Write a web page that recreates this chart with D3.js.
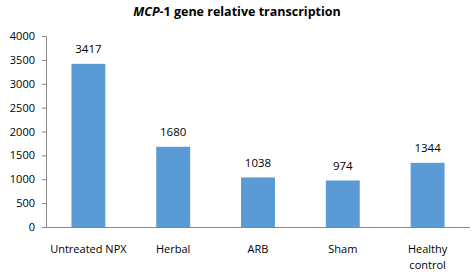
<!DOCTYPE html>
<html><head><meta charset="utf-8">
<script src="https://cdn.jsdelivr.net/npm/d3@7"></script>
<style>body{margin:0;background:#fff}svg{display:block;font-family:"Open Sans",Calibri,sans-serif}</style>
</head><body>
<script>
const categories = ["Untreated NPX","Herbal","ARB","Sham","Healthy control"];
const values = [3417,1680,1038,974,1344];
const yTicks = [0,500,1000,1500,2000,2500,3000,3500,4000];

const W=472,H=274;
const svg=d3.select("body").append("svg").attr("width",W).attr("height",H);
svg.append("rect").attr("width",W).attr("height",H).attr("fill","#fff");
const x=d3.scaleBand().domain(categories).range([46,470]).paddingInner(0.6).paddingOuter(0.3);
const y=d3.scaleLinear().domain([0,4000]).range([227,36]);

const t=svg.append("text").attr("x",237).attr("y",16).attr("text-anchor","middle")
  .attr("font-size",12.5).attr("font-weight","bold").attr("fill","#000");
t.append("tspan").attr("font-style","italic").text("MCP");
t.append("tspan").text("-1 gene relative transcription");

const ya=svg.append("g").attr("transform","translate(46,0)")
  .call(d3.axisLeft(y).tickValues(yTicks).tickSize(4).tickPadding(7).tickFormat(d3.format("d")));
ya.selectAll("path,line").attr("stroke","#868686");
ya.selectAll("text").attr("font-size",11).attr("fill","#000").attr("font-family","'Open Sans',sans-serif");

svg.selectAll("rect.bar").data(values).join("rect").attr("class","bar")
  .attr("x",(d,i)=>x(categories[i])).attr("width",x.bandwidth())
  .attr("y",d=>y(d)).attr("height",d=>y(0)-y(d)).attr("fill","#5b9bd5");

svg.append("line").attr("x1",46).attr("x2",470).attr("y1",y(0)+0.5).attr("y2",y(0)+0.5).attr("stroke","#868686");

svg.selectAll("text.val").data(values).join("text").attr("class","val")
  .attr("x",(d,i)=>x(categories[i])+x.bandwidth()/2).attr("y",d=>y(d)-10.5)
  .attr("text-anchor","middle").attr("font-size",11.5).attr("fill","#000").text(d=>d);

categories.forEach((c,i)=>{
  const cx=x(c)+x.bandwidth()/2;
  const lines = c==="Healthy control" ? ["Healthy","control"] : [c];
  lines.forEach((l,j)=>{
    svg.append("text").attr("x",cx).attr("y",253+j*16).attr("text-anchor","middle")
      .attr("font-size",11).attr("fill","#000").text(l);
  });
});
</script>
</body></html>
